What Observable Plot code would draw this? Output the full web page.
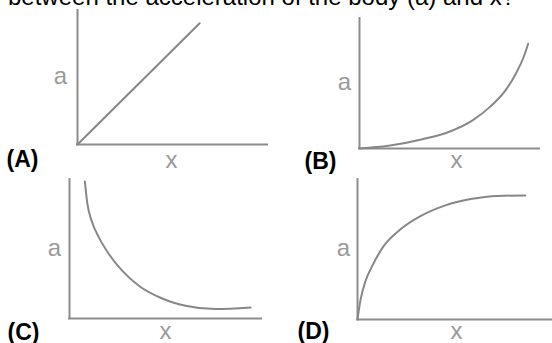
<!DOCTYPE html>
<html><head><meta charset="utf-8">
<script src="https://cdn.jsdelivr.net/npm/d3@7"></script>
<script src="https://cdn.jsdelivr.net/npm/@observablehq/plot@0.6"></script>
<style>
html,body{margin:0;padding:0;background:#fff;}
#root{position:relative;width:552px;height:343px;overflow:hidden;background:#fff;font-family:"Liberation Sans",Arial,sans-serif;}
#root svg{position:absolute;}
#q{position:absolute;left:8px;top:-15px;font-size:24px;line-height:24px;color:#000;white-space:nowrap;}
</style></head><body><div id="root"><div id="q"></div></div>
<script>
// ---- data ----
const question = "between the acceleration of the body (a) and x?";
const panelLabels = ["(A)", "(B)", "(C)", "(D)"];
const yAxisLabel = "a";
const xAxisLabel = "x";
const axisExtent = [0, 100];

const curveA_x = [0, 64.3];
const curveA_y = [0, 90.5];

const curveB_x = [0, 16.1, 35.0, 50.6, 62.8, 72.8, 81.1, 87.2, 91.1, 93.7];
const curveB_y = [0, 2.1, 7.1, 13.3, 21.7, 32.4, 44.7, 58.5, 70.0, 80.6];

const curveC_x = [8.0, 9.2, 11.8, 15.3, 20.5, 27.4, 36.1, 48.3, 60.4, 76.0, 94.3];
const curveC_y = [98.6, 83.6, 69.2, 58.4, 46.4, 34.4, 23.6, 14.4, 9.2, 6.8, 7.9];

const curveD_x = [0, 1.5, 4.0, 7.6, 13.1, 21.7, 31.8, 44.4, 57.1, 70.7, 84.8];
const curveD_y = [0, 13.8, 27.3, 38.7, 52.2, 64.4, 73.8, 81.5, 86.0, 88.3, 88.6];

// ---- layout ----
const AXIS = "#8c8c8c", CURVE = "#878787", LABEL = "#9a9a9a";
const panels = [
  {xs: curveA_x, ys: curveA_y, left: 0,   top: 0,   width: 276, height: 172, ml: 77, mr: 9,  mt: 10, mb: 28,
   aDx: -17, aDy: -1, xDx: -1, xDy: 16, lDx: -71, lDy: 15},
  {xs: curveB_x, ys: curveB_y, left: 276, top: 0,   width: 276, height: 172, ml: 83, mr: 13, mt: 18, mb: 24,
   aDx: -15, aDy: -1, xDx: 7,  xDy: 12, lDx: -55, lDy: 13},
  {xs: curveC_x, ys: curveC_y, left: 0,   top: 171, width: 276, height: 172, ml: 69, mr: 15, mt: 8,  mb: 25,
   aDx: -15, aDy: -1, xDx: 0,  xDy: 13, lDx: -62, lDy: 14},
  {xs: curveD_x, ys: curveD_y, left: 276, top: 171, width: 279, height: 172, ml: 81, mr: 0,  mt: 8,  mb: 24,
   aDx: -14, aDy: -1, xDx: 0,  xDy: 12, lDx: -60, lDy: 12}
];

const root = document.getElementById("root");
document.getElementById("q").textContent = question;

panels.forEach((p, i) => {
  const pts = p.xs.map((x, k) => ({x, y: p.ys[k]}));
  const svg = Plot.plot({
    width: p.width, height: p.height,
    marginLeft: p.ml, marginRight: p.mr, marginTop: p.mt, marginBottom: p.mb,
    x: {domain: axisExtent, axis: null},
    y: {domain: axisExtent, axis: null},
    style: {fontFamily: "'Liberation Sans', Arial, sans-serif", background: "transparent", overflow: "visible"},
    marks: [
      Plot.ruleX([0], {y1: axisExtent[0], y2: axisExtent[1], stroke: AXIS, strokeWidth: 2, strokeLinecap: "square"}),
      Plot.ruleY([0], {x1: axisExtent[0], x2: axisExtent[1], stroke: AXIS, strokeWidth: 2, strokeLinecap: "square"}),
      Plot.line(pts, {x: "x", y: "y", curve: "monotone-x", stroke: CURVE, strokeWidth: 2}),
      Plot.text([yAxisLabel], {frameAnchor: "left", dx: p.aDx, dy: p.aDy, textAnchor: "middle", lineAnchor: "middle",
        fill: LABEL, fontSize: 24}),
      Plot.text([xAxisLabel], {frameAnchor: "bottom", dx: p.xDx, dy: p.xDy, textAnchor: "middle", lineAnchor: "middle",
        fill: LABEL, fontSize: 24}),
      Plot.text([panelLabels[i]], {frameAnchor: "bottom-left", dx: p.lDx, dy: p.lDy, textAnchor: "start", lineAnchor: "middle",
        fill: "#000", fontSize: 23, fontWeight: "bold"})
    ]
  });
  svg.style.left = p.left + "px";
  svg.style.top = p.top + "px";
  root.appendChild(svg);
});
</script></body></html>
